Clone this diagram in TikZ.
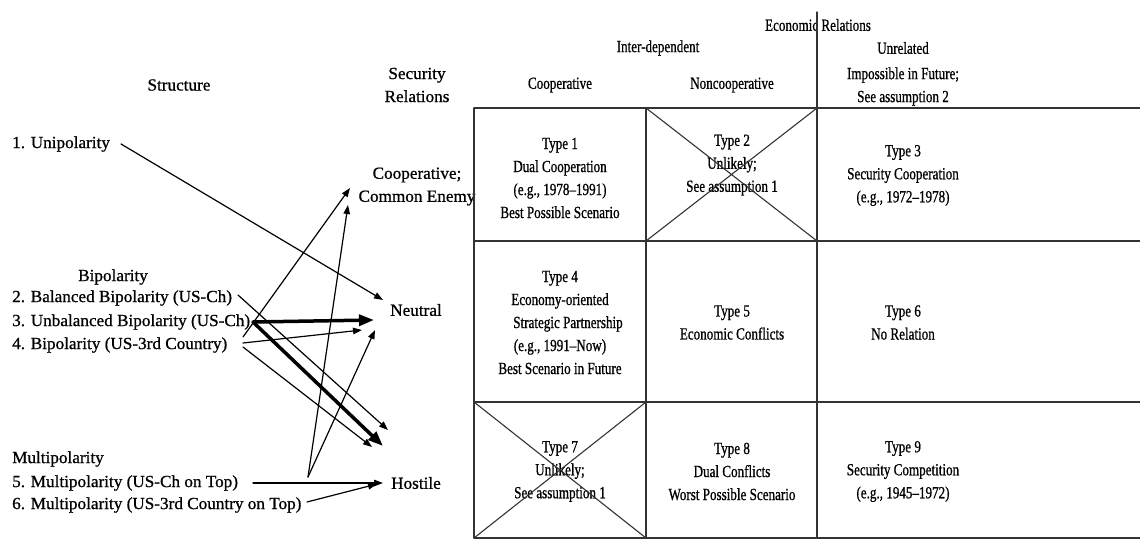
\documentclass[tikz,border=0pt]{standalone}
\usepackage{fontspec}
\setmainfont{Liberation Serif}
\newfontfamily\leftfont[Ligatures=TeX,FakeStretch=1.01,FakeBold=0.8]{Liberation Serif}
\newfontfamily\gridfont[Ligatures=TeX,FakeStretch=0.77,FakeBold=0.8]{Liberation Serif}
\usetikzlibrary{arrows.meta}
\begin{document}
\begin{tikzpicture}[>={Triangle[length=9pt,width=6.5pt]},line join=round,line cap=round,x=1pt,y=-1pt,
	lft/.style={font=\leftfont\fontsize{17}{23}\selectfont,inner sep=0pt,align=center},
	grd/.style={font=\gridfont\fontsize{17}{23}\selectfont,inner sep=0pt,align=center},
	thinarr/.style={->,line width=1.2pt},
	thickarr/.style={-{Triangle[length=15pt,width=11pt]},line width=3.5pt},
	rule/.style={line width=1.1pt,black!80}]
	\useasboundingbox (0,0) rectangle (1140,540);
	% left part: structure -> security relations
	\node[lft] (struct) at (179,85) {Structure};
	\node[lft] (secrel) at (417,85) {Security\\Relations};
	\node[lft,anchor=west] (s1) at (12,144) {1. Unipolarity};
	\node[lft] (bi) at (113,277) {Bipolarity};
	\node[lft,anchor=west] (s2) at (12,298) {2. Balanced Bipolarity (US-Ch)};
	\node[lft,anchor=west] (s3) at (12,322) {3. Unbalanced Bipolarity (US-Ch)};
	\node[lft,anchor=west] (s4) at (12,345) {4. Bipolarity (US-3rd Country)};
	\node[lft,anchor=west] (multi) at (12,459) {Multipolarity};
	\node[lft,anchor=west] (s5) at (12,483) {5. Multipolarity (US-Ch on Top)};
	\node[lft,anchor=west] (s6) at (12,505) {6. Multipolarity (US-3rd Country on Top)};
	\node[lft] (coop) at (417,186.5) {Cooperative;\\Common Enemy};
	\node[lft] (neut) at (416,310) {Neutral};
	\node[lft] (host) at (416,483) {Hostile};
	\path
	(121,144) coordinate (s1out)
	(238,295) coordinate (s2out)
	(253,322) coordinate (s3out)
	(243,337) coordinate (s4a)
	(243,343) coordinate (s4b)
	(243,347) coordinate (s4c)
	(253,483) coordinate (s5out)
	(308,477) coordinate (s5mid)
	(307,502) coordinate (s6out)
	(350,188) coordinate (coopA)
	(348,205) coordinate (coopB)
	(383,300) coordinate (neutA)
	(374,320) coordinate (neutB)
	(362,330) coordinate (neutC)
	(375,330) coordinate (neutD)
	(388,430) coordinate (hostA)
	(383,446) coordinate (hostB)
	(372,447) coordinate (hostC)
	(383,483) coordinate (hostD)
	(377,484) coordinate (hostE);
	\draw[thinarr] (s1out)--(neutA);
	\draw[thinarr] (s2out)--(hostA);
	\draw[thickarr] (s3out)--(neutB);
	\draw[thickarr] (s3out)--(hostB);
	\foreach \a/\b in {s4a/coopA,s4b/neutC,s4c/hostC,s5mid/coopB,s5mid/neutD,s5out/hostD,s6out/hostE}
	\draw[thinarr] (\a)--(\b);
	% right part: the 3x3 table
	\node[grd] (econ) at (818,25) {Economic Relations};
	\node[grd] (inter) at (658,48) {Inter-dependent};
	\node[grd] (unrel) at (903,48) {Unrelated};
	\node[grd] (hcoop) at (560,85) {Cooperative};
	\node[grd] (hnon) at (732,85) {Noncooperative};
	\node[grd] (himp) at (903,86.5) {Impossible in Future;\\See assumption 2};
	\node[grd] (t1) at (560,178) {Type 1\\Dual Cooperation\\(e.g., 1978--1991)\\Best Possible Scenario};
	\node[grd] (t2) at (732,165) {Type 2\\Unlikely;\\See assumption 1};
	\node[grd] (t3) at (903,175.5) {Type 3\\Security Cooperation\\(e.g., 1972--1978)};
	\node[grd] (t4) at (560,322.5) {Type 4\\Economy-oriented\hspace*{20pt}\\\hspace*{16pt}Strategic Partnership\\(e.g., 1991--Now)\\Best Scenario in Future};
	\node[grd] (t5) at (732,322.5) {Type 5\\Economic Conflicts};
	\node[grd] (t6) at (903,322.5) {Type 6\\No Relation};
	\node[grd] (t7) at (560,471.5) {Type 7\\Unlikely;\\See assumption 1};
	\node[grd] (t8) at (732,471.5) {Type 8\\Dual Conflicts\\Worst Possible Scenario};
	\node[grd] (t9) at (903,471.5) {Type 9\\Security Competition\\(e.g., 1945--1972)};
	\foreach \y in {108,241,402,538}
	\draw[rule] (474,\y)--(1140,\y);
	\draw[rule] (474,108)--(474,538) (646,108)--(646,538) (817,12)--(817,538);
	% crossed out cells
	\draw[rule] (646,108)--(817,241) (646,241)--(817,108) (474,402)--(646,538) (474,538)--(646,402);
\end{tikzpicture}
\end{document}
